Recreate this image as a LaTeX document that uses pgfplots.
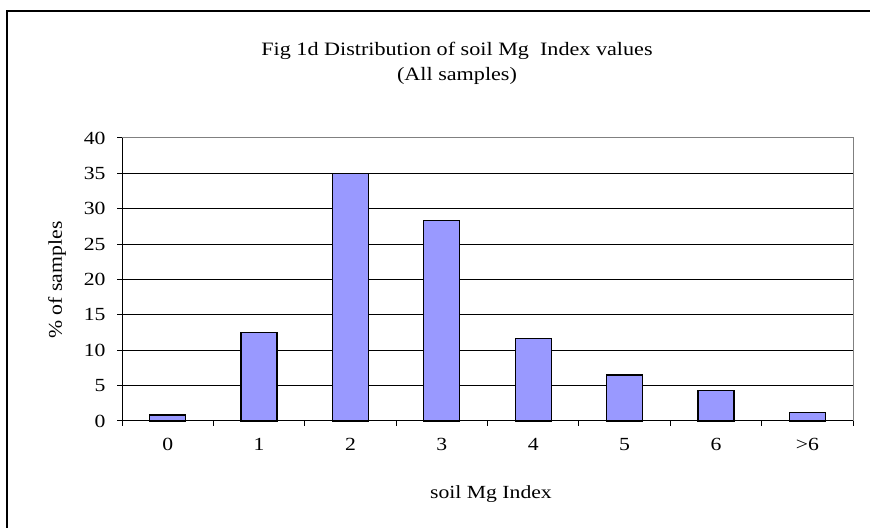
\documentclass[border=0pt]{standalone}
\usepackage{pgfplots}
\pgfplotsset{compat=1.18}
\usepackage{fontspec}
\setmainfont{Liberation Serif}
\newfontfamily\chartfont[FakeStretch=1.17]{Liberation Serif}
\newfontfamily\ylabfont[FakeStretch=1.12]{Liberation Serif}
\definecolor{barblue}{HTML}{9999FF}
\begin{document}
\begin{tikzpicture}[x=1bp,y=1bp]
\useasboundingbox (0,0) rectangle (870,528);
\draw[line width=1.5bp] (7,-5) -- (7,517) -- (875,517);
\node[align=center,font=\chartfont\fontsize{19}{25}\selectfont] at (457,465) {Fig 1d Distribution of soil Mg\ \ Index values\\(All samples)};
\node[font=\chartfont\fontsize{18.6}{18.6}\selectfont] at (491,34) {soil Mg Index};
\node[rotate=90,font=\ylabfont\fontsize{19.5}{19.5}\selectfont] at (57,248) {\% of samples};
\begin{axis}[
  at={(122bp,107bp)}, anchor=south west,
  width=731bp, height=283bp, scale only axis,
  xmin=-0.5, xmax=7.5, ymin=0, ymax=40,
  axis lines=left, axis line style={-, line width=1bp, black},
  ytick={0,5,...,40},
  ymajorgrids, grid style={black, line width=1bp},
  xtick={-0.5,0.5,...,7.5}, xticklabels={},
  extra x ticks={0,1,2,3,4,5,6,7},
  extra x tick labels={0,1,2,3,4,5,6,>6},
  extra x tick style={major tick length=0pt, tick style={draw=none}, xticklabel style={yshift=-14bp}},
  tick align=outside, major tick length=5bp,
  tick style={black, line width=1bp},
  /pgf/number format/assume math mode=true,
  tick label style={font=\chartfont\fontsize{18.6}{18.6}\selectfont},
  yticklabel style={xshift=-8bp},
  clip=false,
]
\addplot[ybar, bar width=36bp, fill=barblue, draw=black, line width=1.2bp]
  coordinates {(0,0.85) (1,12.5) (2,35) (3,28.3) (4,11.7) (5,6.5) (6,4.3) (7,1.2)};
\draw[gray, line width=1bp] (rel axis cs:0,1) -- (rel axis cs:1,1) -- (rel axis cs:1,0);
\end{axis}
\end{tikzpicture}
\end{document}
